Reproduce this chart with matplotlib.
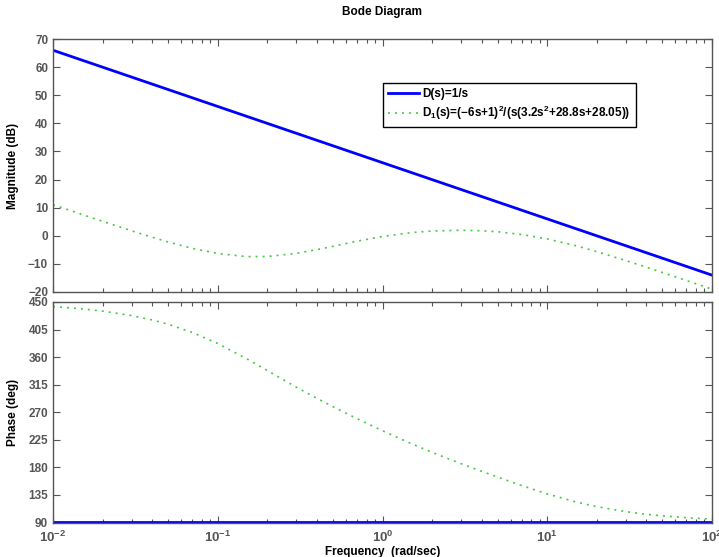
import matplotlib
matplotlib.use('Agg')
import matplotlib.pyplot as plt
from matplotlib.ticker import LogLocator, NullFormatter, FixedLocator

plt.rcParams['font.family'] = ['Liberation Sans', 'DejaVu Sans']
plt.rcParams['font.weight'] = 'bold'
plt.rcParams['mathtext.fontset'] = 'custom'
plt.rcParams['mathtext.rm'] = 'Liberation Sans:bold'
plt.rcParams['mathtext.bf'] = 'Liberation Sans:bold'
plt.rcParams['mathtext.default'] = 'rm'

# D(s): straight -20 dB/decade line, flat phase
d_freq = [0.01, 0.1, 1, 10, 100]
d_mag = [66.0, 46.0, 26.0, 6.0, -14.0]
d_phase = [90.0, 90.0, 90.0, 90.0, 90.0]

# D1(s) samples
d1_freq = [0.01, 0.015, 0.02, 0.03, 0.04, 0.05, 0.07, 0.1, 0.15, 0.2, 0.3, 0.4,
           0.5, 0.7, 1, 1.5, 2, 3, 4, 5, 7, 10, 15, 20, 30, 40, 50, 70, 100]
d1_mag = [11.07, 7.59, 5.14, 1.77, -0.52, -2.20, -4.47, -6.32, -7.41, -7.37,
          -6.27, -4.94, -3.76, -1.94, -0.24, 1.14, 1.70, 1.96, 1.78, 1.42,
          0.46, -1.13, -3.58, -5.64, -8.82, -11.19, -13.07, -15.93, -19.00]
d1_phase = [442.55, 438.83, 435.14, 427.83, 420.66, 413.66, 400.33, 382.20,
            357.25, 337.96, 310.82, 292.54, 279.02, 259.50, 239.71, 218.45,
            204.36, 185.86, 173.41, 163.98, 150.16, 136.52, 123.25, 115.66,
            107.49, 103.23, 100.62, 97.61, 95.33]

mag_ticks = [-20, -10, 0, 10, 20, 30, 40, 50, 60, 70]
phase_ticks = [90, 135, 180, 225, 270, 315, 360, 405, 450]
freq_ticks = [0.01, 0.1, 1, 10, 100]
freq_labels = ['$10^{-2}$', '$10^{-1}$', '$10^{0}$', '$10^{1}$', '$10^{2}$']

W, H = 719, 557
fig = plt.figure(figsize=(W / 100, H / 100), dpi=100)
ax_mag = fig.add_axes([53 / W, 1 - 292 / H, 659 / W, 253 / H])
ax_ph = fig.add_axes([53 / W, 1 - 523 / H, 659 / W, 221 / H])

grey = '#555555'
blue = '#0000ff'
green = '#46c846'

ax_mag.semilogx(d_freq, d_mag, color=blue, lw=2.0, label='D(s)=1/s')
ax_mag.semilogx(d1_freq, d1_mag, color=green, lw=1.2, ls=(0, (1.2, 3.0)),
                label='D$_1$(s)=(\u22126s+1)$^2$/(s(3.2s$^2$+28.8s+28.05))')
ax_ph.semilogx(d_freq, d_phase, color=blue, lw=2.0)
ax_ph.semilogx(d1_freq, d1_phase, color=green, lw=1.2, ls=(0, (1.2, 3.0)))

ax_mag.set_ylim(-20, 70)
ax_ph.set_ylim(89, 450)
ax_mag.yaxis.set_major_locator(FixedLocator(mag_ticks))
ax_ph.yaxis.set_major_locator(FixedLocator(phase_ticks))

for ax in (ax_mag, ax_ph):
    ax.set_xlim(0.01, 100)
    ax.xaxis.set_major_locator(FixedLocator(freq_ticks))
    ax.xaxis.set_minor_locator(LogLocator(base=10, subs=range(2, 10)))
    ax.xaxis.set_minor_formatter(NullFormatter())
    ax.tick_params(which='both', direction='in', top=True, right=True,
                   colors=grey, labelsize=8.5, labelcolor=grey)
    ax.tick_params(which='major', length=5, width=0.8)
    ax.tick_params(which='minor', length=3, width=0.8)
    for sp in ax.spines.values():
        sp.set_color(grey)
        sp.set_linewidth(1.0)
    for lab in ax.get_yticklabels():
        lab.set_fontweight('bold')

ax_mag.set_xticklabels([])
ax_ph.set_xticklabels(freq_labels)
ax_ph.tick_params(axis='x', which='major', labelsize=9.5, pad=5)

ax_mag.set_ylabel('Magnitude (dB)', fontsize=8.5, fontweight='bold')
ax_ph.set_ylabel('Phase (deg)', fontsize=8.5, fontweight='bold')
ax_mag.yaxis.set_label_coords(-34 / 659, 0.5)
ax_ph.yaxis.set_label_coords(-34 / 659, 0.5)

fig.text(382.5 / W, 1 - 12 / H, 'Bode Diagram', ha='center', va='center',
         fontsize=8.5, fontweight='bold')
fig.text(382.5 / W, 1 - 552 / H, 'Frequency  (rad/sec)', ha='center',
         va='center', fontsize=8.5, fontweight='bold')

leg = ax_mag.legend(loc='upper left', bbox_to_anchor=(0.50, 0.826),
                    borderaxespad=0, fancybox=False, framealpha=1,
                    edgecolor='black', fontsize=8.5, handlelength=2.6,
                    handletextpad=0.3, labelspacing=0.3, borderpad=0.45)
leg.get_frame().set_linewidth(1.0)

fig.savefig('out.png', dpi=100)
